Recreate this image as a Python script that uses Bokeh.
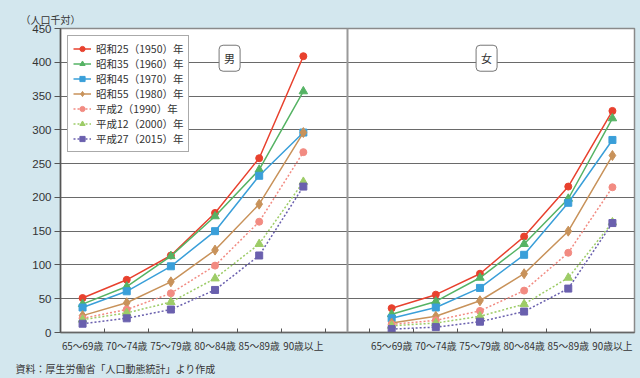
import math
from bokeh.plotting import figure
from bokeh.models import (FixedTicker, Span, Label, Legend, LegendItem, Range1d,
                          ColumnDataSource, Title)
from bokeh.embed import file_html
from bokeh.resources import INLINE

# ---- data ----
categories = ["65～69歳", "70～74歳", "75～79歳", "80～84歳", "85～89歳", "90歳以上"]
y_ticks = [0, 50, 100, 150, 200, 250, 300, 350, 400, 450]
series_names = ["昭和25（1950）年", "昭和35（1960）年", "昭和45（1970）年", "昭和55（1980）年",
                "平成2（1990）年", "平成12（2000）年", "平成27（2015）年"]

male_s25 = [51, 78, 114, 177, 258, 409]
male_s35 = [42, 68, 113, 172, 241, 357]
male_s45 = [37, 61, 98, 150, 232, 296]
male_s55 = [25, 44, 75, 122, 190, 296]
male_h2 = [21, 34, 58, 99, 164, 267]
male_h12 = [19, 29, 45, 80, 131, 223]
male_h27 = [13, 21, 34, 63, 114, 216]

female_s25 = [36, 56, 87, 142, 216, 328]
female_s35 = [27, 46, 81, 131, 198, 317]
female_s45 = [21, 37, 66, 115, 192, 285]
female_s55 = [14, 24, 47, 87, 150, 262]
female_h2 = [12, 18, 32, 62, 118, 215]
female_h12 = [10, 14, 24, 42, 81, 163]
female_h27 = [5, 8, 16, 31, 65, 162]

male = [male_s25, male_s35, male_s45, male_s55, male_h2, male_h12, male_h27]
female = [female_s25, female_s35, female_s45, female_s55, female_h2, female_h12, female_h27]

colors = ["#e8412e", "#55b364", "#3a9fd9", "#c8925a", "#f28b82", "#9dcc67", "#6a60ae"]
markers = ["circle", "triangle", "square", "diamond", "circle", "triangle", "square"]
msizes = [7, 8.5, 7, 10, 7, 8.5, 7]
dashes = ["solid", "solid", "solid", "solid", "2 2", "2 2", "2 2"]

BG = "#d3e7ee"

p = figure(width=640, height=378, output_backend="svg", toolbar_location=None,
           x_range=Range1d(0, 13), y_range=Range1d(0, 450),
           min_border_left=60, min_border_right=6, min_border_top=28,
           min_border_bottom=44)
p.border_fill_color = BG
p.background_fill_color = "white"
p.outline_line_color = "#8a8a8a"
p.outline_line_width = 1.5

# x positions: male slots 0..5, gap, female slots 7..12
n = len(categories)
male_x = [i + 0.5 for i in range(n)]
female_x = [i + 7.5 for i in range(n)]

# axes
xa = p.xaxis[0]
xa.ticker = FixedTicker(ticks=male_x + female_x,
                        minor_ticks=[i for i in range(1, 13)])
xa.major_label_overrides = {x: categories[i % n] for i, x in enumerate(male_x + female_x)}
xa.major_tick_in = 0
xa.major_tick_out = 0
xa.minor_tick_in = 4
xa.minor_tick_out = 0
xa.minor_tick_line_color = "#555555"
xa.axis_line_color = "#666666"
xa.axis_line_width = 1.5
xa.major_label_text_font = "Noto Sans CJK JP"
xa.major_label_text_font_size = "9.8px"
xa.major_label_text_color = "#333333"
xa.major_label_standoff = 6

ya = p.yaxis[0]
ya.ticker = FixedTicker(ticks=y_ticks)
ya.minor_tick_line_color = None
ya.major_tick_in = 0
ya.major_tick_out = 6
ya.major_tick_line_color = "#555555"
ya.axis_line_color = "#555555"
ya.axis_line_width = 1.5
ya.major_label_text_font = "Liberation Sans"
ya.major_label_text_font_size = "11.5px"
ya.major_label_text_color = "#333333"
ya.major_label_standoff = 3

p.xgrid.grid_line_color = None
p.ygrid.grid_line_color = "#6a6a6a"
p.ygrid.grid_line_width = 1.2

p.add_layout(Span(location=6.5, dimension="height", line_color="#9a9a9a", line_width=2))

items = []
for k in range(7):
    xs = male_x + [math.nan] + female_x
    ys = male[k] + [math.nan] + female[k]
    src = ColumnDataSource(dict(x=xs, y=ys))
    lr = p.line("x", "y", source=src, line_color=colors[k], line_width=1.5,
                line_dash=dashes[k])
    sr = p.scatter("x", "y", source=src, marker=markers[k], size=msizes[k],
                   fill_color=colors[k], line_color=colors[k])
    items.append(LegendItem(label=series_names[k], renderers=[lr, sr]))

legend = Legend(items=items, location=(7, 180))
legend.label_text_font = "Noto Sans CJK JP"
legend.label_text_font_size = "10.5px"
legend.label_text_color = "#333333"
legend.glyph_width = 18
legend.glyph_height = 13
legend.label_height = 13
legend.label_standoff = 5
legend.spacing = 0
legend.padding = 5
legend.border_line_color = "#555555"
legend.border_line_width = 1
legend.background_fill_color = "white"
legend.background_fill_alpha = 1
p.add_layout(legend)

for txt, xx in (("男", 3.83), ("女", 9.65)):
    p.add_layout(Label(x=xx, y=406, text=txt, text_align="center", text_baseline="middle",
                       text_font="Noto Sans CJK JP", text_font_size="11px",
                       text_color="#333333", background_fill_color="white",
                       border_line_color="#777777", border_line_width=1,
                       padding=5, border_radius=4))

p.add_layout(Title(text="（人口千対）", align="left", offset=-40, standoff=4,
                   text_font="Noto Sans CJK JP", text_font_size="10px",
                   text_font_style="normal", text_color="#333333"), "above")
p.add_layout(Title(text="資料：厚生労働省「人口動態統計」より作成", align="left",
                   offset=-45, standoff=6, text_font="Noto Sans CJK JP",
                   text_font_size="10px", text_font_style="normal",
                   text_color="#333333"), "below")

html = file_html(p, INLINE)
html = html.replace("<head>", "<head><style>body{background:%s;}</style>" % BG, 1)
open("out.html", "w").write(html)
